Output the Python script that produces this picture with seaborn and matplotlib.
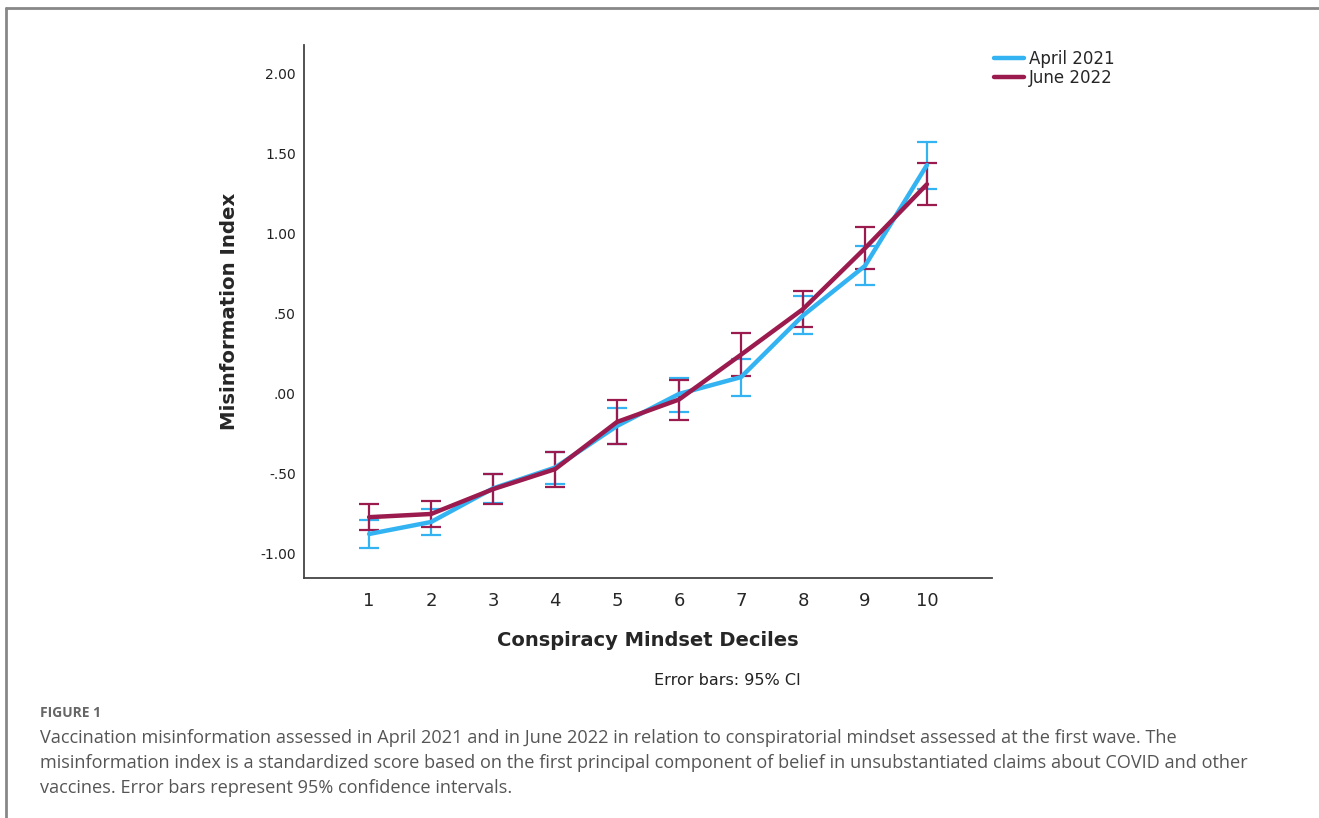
import numpy as np
import pandas as pd
import matplotlib
matplotlib.use('Agg')
import matplotlib.pyplot as plt
import seaborn as sns
from matplotlib.lines import Line2D

# values
deciles = [1, 2, 3, 4, 5, 6, 7, 8, 9, 10]
april_mean = [-0.875, -0.80, -0.59, -0.46, -0.20, 0.00, 0.105, 0.49, 0.80, 1.43]
april_low = [-0.96, -0.88, -0.68, -0.56, -0.31, -0.11, -0.01, 0.375, 0.68, 1.28]
april_high = [-0.79, -0.72, -0.50, -0.36, -0.09, 0.10, 0.22, 0.61, 0.925, 1.575]
june_mean = [-0.77, -0.75, -0.595, -0.47, -0.175, -0.035, 0.245, 0.53, 0.91, 1.31]
june_low = [-0.85, -0.83, -0.69, -0.58, -0.31, -0.16, 0.11, 0.42, 0.78, 1.18]
june_high = [-0.69, -0.67, -0.50, -0.36, -0.04, 0.09, 0.38, 0.64, 1.04, 1.44]
yticks = [-1.0, -0.5, 0.0, 0.5, 1.0, 1.5, 2.0]
ytick_labels = ['-1.00', '-.50', '.00', '.50', '1.00', '1.50', '2.00']

blue = '#33b3f2'
red = '#9b1b4f'

df = pd.DataFrame({
    'decile': deciles * 2,
    'index': april_mean + june_mean,
    'wave': ['April 2021'] * 10 + ['June 2022'] * 10,
})

sns.set_style('white')
plt.rcParams['font.family'] = ['DejaVu Sans']

fig = plt.figure(figsize=(13.19, 8.18), dpi=100)
ax = fig.add_axes([0.2305, 0.2934, 0.5216, 0.6516])

for mean, low, high, col in [(april_mean, april_low, april_high, blue),
                             (june_mean, june_low, june_high, red)]:
    m = np.array(mean)
    err = [m - np.array(low), np.array(high) - m]
    ax.errorbar(deciles, m, yerr=err, fmt='none', ecolor=col,
                elinewidth=1.6, capsize=7, capthick=1.6, zorder=2)

sns.lineplot(data=df, x='decile', y='index', hue='wave',
             palette={'April 2021': blue, 'June 2022': red},
             linewidth=3.2, ax=ax, zorder=3, legend=False)

ax.set_xlim(-0.05, 11.05)
ax.set_ylim(-1.15, 2.18)
ax.set_xticks(deciles)
ax.set_xticklabels([str(d) for d in deciles], fontsize=13)
ax.set_yticks(yticks)
ax.set_yticklabels(ytick_labels, fontsize=10, color='#222222')
ax.tick_params(axis='both', length=0)
ax.tick_params(axis='x', pad=10)
ax.tick_params(axis='y', pad=6)
for s in ['top', 'right']:
    ax.spines[s].set_visible(False)
for s in ['left', 'bottom']:
    ax.spines[s].set_color('#444444')
    ax.spines[s].set_linewidth(1.3)

ax.set_xlabel('Conspiracy Mindset Deciles', fontsize=14, fontweight='bold', labelpad=15)
ax.set_ylabel('Misinformation Index', fontsize=14.2, fontweight='bold', labelpad=15)

handles = [Line2D([], [], color=blue, lw=3.2), Line2D([], [], color=red, lw=3.2)]
fig.legend(handles, ['April 2021', 'June 2022'], loc='upper left',
           bbox_to_anchor=(0.7425, 0.957), frameon=False, fontsize=12,
           handlelength=1.8, handletextpad=0.3, labelspacing=0.05)

fig.text(0.496, 0.163, 'Error bars: 95% CI', fontsize=11.5, color='#222222')

# figure frame and caption
fig.add_artist(Line2D([0.0045, 1.0], [0.990, 0.990], color='#888888', lw=2))
fig.add_artist(Line2D([0.0045, 0.0045], [0.0, 0.990], color='#888888', lw=2))
fig.text(0.030, 0.128, 'FIGURE 1', fontsize=10, fontweight='bold',
         color='#666666', family='Open Sans', va='center')
caption = ('Vaccination misinformation assessed in April 2021 and in June 2022 in relation to conspiratorial mindset assessed at the first wave. The\n'
           'misinformation index is a standardized score based on the first principal component of belief in unsubstantiated claims about COVID and other\n'
           'vaccines. Error bars represent 95% confidence intervals.')
fig.text(0.030, 0.109, caption, fontsize=13.05, color='#555555',
         family='Open Sans', va='top', linespacing=1.52)

fig.savefig('out.png', dpi=100)
